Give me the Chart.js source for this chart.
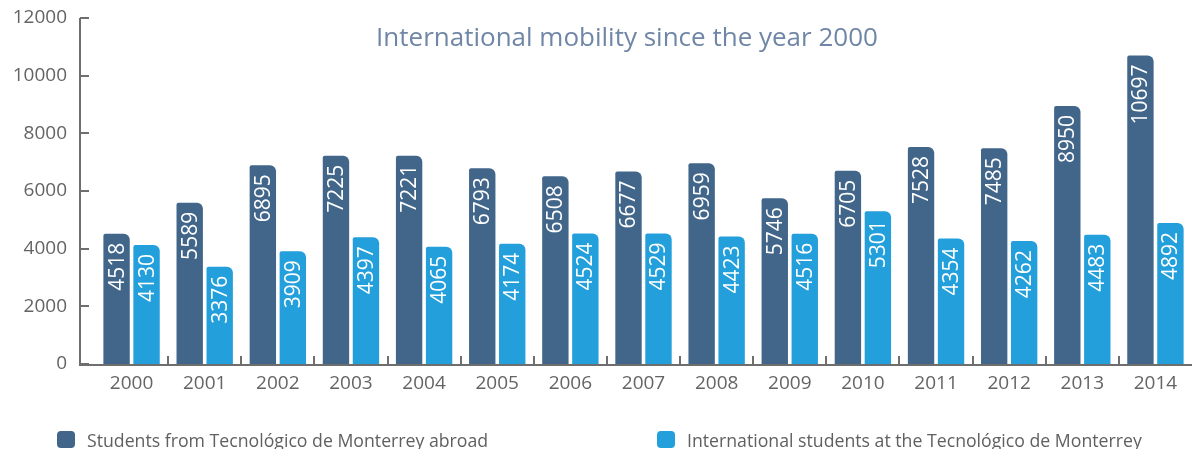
<!DOCTYPE html>
<html>
<head>
<meta charset="utf-8">
<script src="https://cdn.jsdelivr.net/npm/chart.js@4.4.1/dist/chart.umd.min.js"></script>
<style>
  html, body { margin: 0; padding: 0; background: #fff; }
  #wrap { position: relative; width: 1192px; height: 449px; overflow: hidden; font-family: "Open Sans", sans-serif; }
  #title { position: absolute; left: 627px; top: 18px; transform: translateX(-50%); white-space: nowrap;
           font-size: 26px; color: #6f86a6; }
  .leg { position: absolute; top: 431px; height: 17px; display: flex; align-items: center; white-space: nowrap;
         font-size: 17.7px; color: #606060; }
  .leg i { display: inline-block; width: 18px; height: 17px; border-radius: 4px; margin-right: 12px; flex: none; }
</style>
</head>
<body>
<div id="wrap">
  <canvas id="chart" width="1192" height="449"></canvas>
  <div id="title">International mobility since the year 2000</div>
  <div class="leg" style="left:57px"><i style="background:#42668a"></i>Students from Tecnológico de Monterrey abroad</div>
  <div class="leg" style="left:657px"><i style="background:#239fdb"></i>International students at the Tecnológico de Monterrey</div>
</div>
<script>
const years = ['2000', '2001', '2002', '2003', '2004', '2005', '2006', '2007', '2008', '2009', '2010', '2011', '2012', '2013', '2014'];
const abroad = [4518, 5589, 6895, 7225, 7221, 6793, 6508, 6677, 6959, 5746, 6705, 7528, 7485, 8950, 10697];
const incoming = [4130, 3376, 3909, 4397, 4065, 4174, 4524, 4529, 4423, 4516, 5301, 4354, 4262, 4483, 4892];
const yTicks = [0, 2000, 4000, 6000, 8000, 10000, 12000];

const darkBlue = '#42668a';
const lightBlue = '#239fdb';
const axisGray = '#6e6e6e';

// values written upright inside each bar
const barLabels = {
    id: 'barLabels',
    afterDatasetsDraw(chart) {
        const ctx = chart.ctx;
        ctx.save();
        ctx.fillStyle = '#ffffff';
        ctx.font = '21px "Open Sans"';
        ctx.textAlign = 'right';
        ctx.textBaseline = 'middle';
        chart.data.datasets.forEach((ds, i) => {
            chart.getDatasetMeta(i).data.forEach((bar, j) => {
                ctx.save();
                ctx.translate(bar.x + 1, bar.y + 9);
                ctx.rotate(-Math.PI / 2);
                ctx.fillText(String(ds.data[j]), 0, 0);
                ctx.restore();
            });
        });
        ctx.restore();
    }
};

// axis lines with inward tick marks, y axis sits a bit left of the plot
const axes = {
    id: 'axes',
    afterDraw(chart) {
        const ctx = chart.ctx;
        const y = chart.scales.y;
        const x = chart.scales.x;
        const axisX = chart.chartArea.left - 15;
        const bottom = y.getPixelForValue(0);
        ctx.save();
        ctx.strokeStyle = axisGray;
        ctx.lineWidth = 2;
        ctx.beginPath();
        ctx.moveTo(axisX, y.getPixelForValue(12000));
        ctx.lineTo(axisX, bottom + 1);
        ctx.lineTo(chart.chartArea.right, bottom + 1);
        yTicks.forEach(v => {
            const py = Math.round(y.getPixelForValue(v));
            ctx.moveTo(axisX, py);
            ctx.lineTo(axisX + 9, py);
        });
        for (let i = 0; i < years.length - 1; i++) {
            const px = Math.round((x.getPixelForValue(i) + x.getPixelForValue(i + 1)) / 2);
            ctx.moveTo(px, bottom + 1);
            ctx.lineTo(px, bottom - 8);
        }
        ctx.stroke();
        ctx.restore();
    }
};

new Chart(document.getElementById('chart'), {
    type: 'bar',
    data: {
        labels: years,
        datasets: [
            {
                label: 'Students from Tecnológico de Monterrey abroad',
                data: abroad,
                backgroundColor: darkBlue,
                borderRadius: { topLeft: 2, topRight: 6 },
                borderSkipped: 'bottom'
            },
            {
                label: 'International students at the Tecnológico de Monterrey',
                data: incoming,
                backgroundColor: lightBlue,
                borderRadius: { topLeft: 2, topRight: 6 },
                borderSkipped: 'bottom'
            }
        ]
    },
    options: {
        responsive: false,
        animation: false,
        layout: { padding: { top: 18, right: 0, bottom: 45, left: 0 } },
        datasets: { bar: { categoryPercentage: 0.82, barPercentage: 0.88 } },
        plugins: {
            legend: { display: false },
            title: { display: false },
            tooltip: { enabled: false }
        },
        scales: {
            x: {
                grid: { display: false, drawTicks: false },
                border: { display: false },
                ticks: { color: '#646464', font: { family: 'Open Sans', size: 19 }, padding: 8 },
                afterFit: s => { s.height = 40; }
            },
            y: {
                min: 0,
                max: 12000,
                grid: { display: false, drawTicks: false },
                border: { display: false },
                afterBuildTicks: s => { s.ticks = yTicks.map(v => ({ value: v })); },
                ticks: {
                    color: '#646464',
                    font: { family: 'Open Sans', size: 19 },
                    padding: 28,
                    callback: v => String(v)
                },
                afterFit: s => { s.width = 95; s.paddingTop = 0; s.paddingBottom = 0; }
            }
        }
    },
    plugins: [barLabels, axes]
});
</script>
</body>
</html>
